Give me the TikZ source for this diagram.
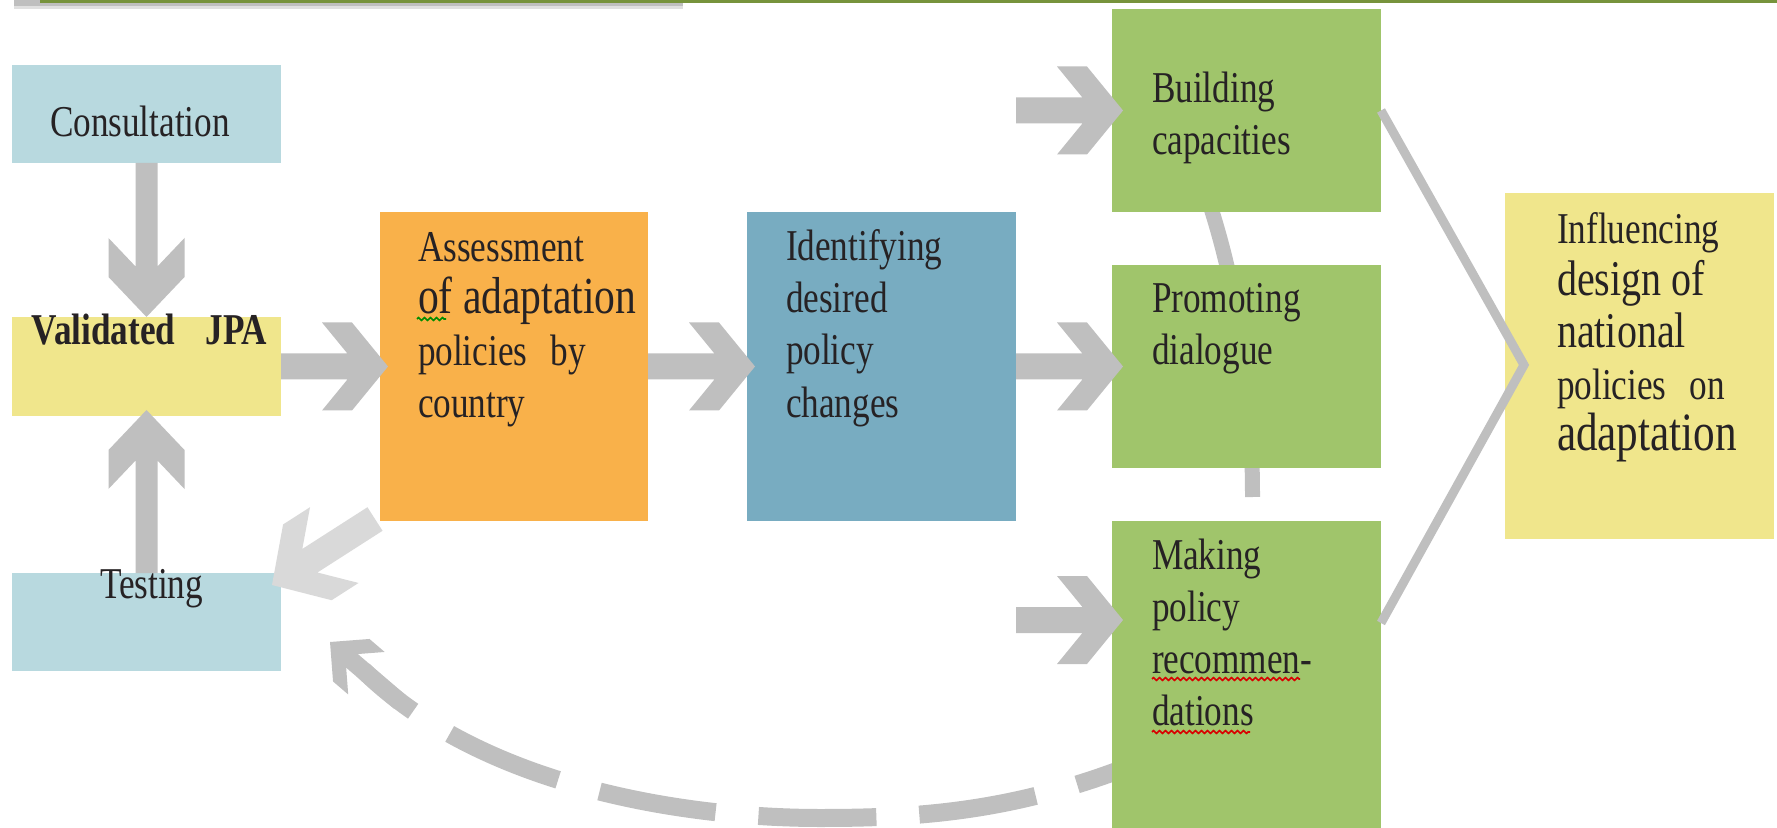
\documentclass[tikz,border=0pt]{standalone}
\usepackage{fontspec}
\setmainfont{Liberation Serif}[FakeStretch=0.8]
\usetikzlibrary{calc,decorations.pathmorphing}

\definecolor{boxaqua}{RGB}{184,217,223}
\definecolor{boxsand}{RGB}{240,230,140}
\definecolor{boxorange}{RGB}{249,177,74}
\definecolor{boxsteel}{RGB}{120,172,193}
\definecolor{boxleaf}{RGB}{160,197,107}
\definecolor{flowgrey}{RGB}{191,191,191}
\definecolor{flowpale}{RGB}{217,217,217}
\definecolor{ruleolive}{RGB}{119,147,60}
\definecolor{inkdark}{RGB}{38,34,36}

% Block arrow with a chevron head.
% #1 options, #2 start, #3 tip, #4 half shaft width, #5 half head width,
% #6 head length, #7 front set-back, #8 notch distance from the tip
\newcommand\blockarrow[8][]{%
  \fill[#1] ($(#2)!#4!90:(#3)$)
    -- ($($(#3)!#8!(#2)$)!#4!90:(#3)$)
    -- ($($(#3)!#6!(#2)$)!#5!90:(#3)$)
    -- ($($(#3)!#7!(#2)$)!#5!90:(#3)$)
    -- (#3)
    -- ($($(#3)!#7!(#2)$)!#5!-90:(#3)$)
    -- ($($(#3)!#6!(#2)$)!#5!-90:(#3)$)
    -- ($($(#3)!#8!(#2)$)!#4!-90:(#3)$)
    -- ($(#2)!#4!-90:(#3)$) -- cycle;}

\tikzset{
  box/.style={rectangle, inner sep=0pt, outer sep=0pt, anchor=north west,
              minimum width=134.5pt},
  % multi-line labels are placed by the baseline of their last line
  lbl/.style={anchor=base west, inner sep=0pt, outer sep=0pt, align=left,
              font=\fontsize{22pt}{26pt}\selectfont, text=inkdark},
  squig/.style={decorate, decoration={zigzag, segment length=3pt, amplitude=0.7pt},
                line width=0.8pt},
  dashloop/.style={draw=flowgrey, line width=9pt, line cap=butt,
                   dash pattern=on 59pt off 21.5pt, dash phase=26.5pt},
}

\begin{document}
\begin{tikzpicture}[x=0.5pt, y=-0.5pt]
\useasboundingbox (0,0) rectangle (1777,828);

% header rules
\fill[flowgrey] (14,0) rectangle (683,6);
\fill[black!12] (14,6) rectangle (683,9);
\fill[ruleolive] (40,0) rectangle (1777,3);

% anchors for the curves that run behind the boxes
\coordinate (cl0) at (1190,150);
\coordinate (cl1) at (1252.5,497);
\coordinate (d2) at (363,670);
\coordinate (dmid) at (820,818);
\coordinate (dend) at (1150,758);

% link behind the green boxes
\draw[flowgrey, line width=7.5pt] (cl0) .. controls +(45,110) and +(0,-117) .. (cl1);
% dashed return loop
\draw[dashloop] (d2) .. controls +(117,115) and +(-140,0) .. (dmid)
                     .. controls +(100,0) and +(-130,54) .. (dend);

% boxes
\node[box, fill=boxaqua,  minimum height=49pt]    (cons)   at (12,65)   {};
\node[box, fill=boxsand,  minimum height=49.5pt]  (valid)  at (12,317)  {};
\node[box, fill=boxaqua,  minimum height=49pt]    (test)   at (12,573)  {};
\node[box, fill=boxorange, minimum width=134pt, minimum height=154.5pt] (assess) at (380,212) {};
\node[box, fill=boxsteel, minimum height=154.5pt] (ident)  at (747,212)  {};
\node[box, fill=boxleaf,  minimum height=101.5pt] (build)  at (1112,9)   {};
\node[box, fill=boxleaf,  minimum height=101.5pt] (promo)  at (1112,265) {};
\node[box, fill=boxleaf,  minimum height=153.5pt] (making) at (1112,521) {};
\node[box, fill=boxsand,  minimum height=173pt]   (infl)   at (1505,193) {};

% arrow end points
\coordinate (vup)  at ($(valid.south)+(0,-6)$);
\coordinate (h1)   at ($(assess.west)+(8,0)$);
\coordinate (h2)   at ($(ident.west)+(8,0)$);
\coordinate (h3)   at ($(promo.west)+(11,0)$);
\coordinate (h4)   at ($(build.west)+(11,0)$);
\coordinate (mk)   at ($(making.north west)+(11,99)$);
\coordinate (l1)   at ($(assess.south west)+(-5,-2)$);
\coordinate (l2)   at ($(test.north east)+(-9,12)$);
\coordinate (d0)   at ($(test.east)+(49,20)$);
\coordinate (d1)   at ($(test.east)+(119,80)$);
\coordinate (ctip) at ($(infl.west)+(19,-1)$);
\coordinate (cbot) at ($(making.north east)+(0,102)$);

% convergence chevron
\draw[flowgrey, line width=4.5pt, line join=miter] (build.east) -- (ctip) -- (cbot);

% block arrows
\blockarrow[flowgrey]{cons.south}{valid.north}{5.5pt}{19pt}{39.5pt}{20pt}{25.3pt}
\blockarrow[flowgrey]{test.north}{vup}{5.5pt}{19pt}{39.5pt}{20pt}{25.3pt}
\blockarrow[flowgrey]{valid.east}{h1}{6.5pt}{22pt}{33pt}{18pt}{20.3pt}
\blockarrow[flowgrey]{assess.east}{h2}{6.5pt}{22pt}{33pt}{18pt}{20.3pt}
\blockarrow[flowgrey]{ident.east}{h3}{6.5pt}{22pt}{33pt}{18pt}{20.3pt}
\blockarrow[flowgrey]{ident.east |- build.west}{h4}{6.5pt}{22pt}{33pt}{18pt}{20.3pt}
\blockarrow[flowgrey]{ident.east |- mk}{mk}{6.5pt}{22pt}{33pt}{18pt}{20.3pt}
\blockarrow[flowpale]{l1}{l2}{7pt}{22.5pt}{37pt}{21pt}{22.5pt}
\blockarrow[flowgrey]{d1}{d0}{4.5pt}{14pt}{24pt}{14pt}{14.5pt}

% texts
\node[lbl] (cons-t) at (50,137) {Consultation};
\node[lbl, font=\bfseries\fontsize{22pt}{26pt}\selectfont] (valid-t) at (32,345) {Validated\hspace{15pt}JPA};
\node[lbl] (test-t) at (100,598) {Testing};
\node[lbl] (assess-t) at (418,418) {Assessment\\{\fontsize{26pt}{26pt}\selectfont of adaptation}\\policies\hspace{11.5pt}by\\country};
\node[lbl] (ident-t) at (786,417) {Identifying\\desired\\policy\\changes};
\node[lbl] (build-t) at (1152,155) {Building\\capacities};
\node[lbl] (promo-t) at (1152,365) {Promoting\\dialogue};
\node[lbl] (making-t) at (1152,725) {Making\\policy\\recommen-\\dations};
\node[lbl] (infl-t) at (1557,451) {Influencing\\{\fontsize{25pt}{26pt}\selectfont design of}\\{\fontsize{25pt}{26pt}\selectfont national}\\policies\hspace{11.5pt}on\\{\fontsize{27pt}{26pt}\selectfont adaptation}};

% proofing marks under words
\draw[squig, green!55!black] (417,319) -- (446,319);
\draw[squig, red!85!black] (1152,679) -- (1300,679);
\draw[squig, red!85!black] (1152,732) -- (1250,732);
\end{tikzpicture}
\end{document}
